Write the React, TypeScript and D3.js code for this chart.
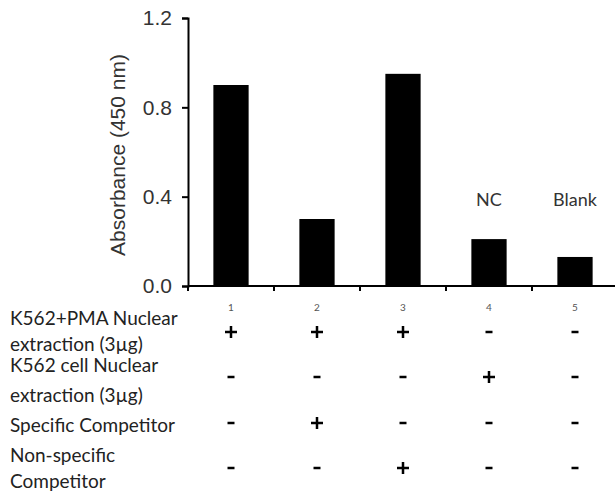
import React, { useEffect, useRef } from 'react'
import * as d3 from 'd3'

// lane numbers and absorbance readings
const lanes = ['1', '2', '3', '4', '5']
const absorbance = [0.9, 0.3, 0.95, 0.21, 0.13]
const barNotes = ['', '', '', 'NC', 'Blank']
const yTicks = [0, 0.4, 0.8, 1.2]

// condition table under the chart
const conditionLabels = [
  ['K562+PMA Nuclear', 'extraction (3µg)'],
  ['K562 cell Nuclear', 'extraction (3µg)'],
  ['Specific Competitor'],
  ['Non-specific', 'Competitor'],
]
const conditionSigns = [
  ['+', '+', '+', '-', '-'],
  ['-', '-', '-', '+', '-'],
  ['-', '+', '-', '-', '-'],
  ['-', '-', '+', '-', '-'],
]

export default function App() {
  const ref = useRef<SVGSVGElement>(null)

  useEffect(() => {
    const svg = d3.select(ref.current)
    svg.selectAll('*').remove()

    const width = 615
    const height = 497
    const left = 188
    const top = 18
    const bottom = 286
    const right = 618

    const x = d3.scaleBand().domain(lanes).range([left, right])
    const y = d3.scaleLinear().domain([0, 1.2]).range([bottom, top])
    const barW = x.bandwidth() * 0.41

    const sans = 'Liberation Sans, Arial, sans-serif'
    const calibri = 'Lato, Noto Sans, sans-serif'

    // bars
    svg.append('g')
      .selectAll('rect')
      .data(absorbance)
      .enter()
      .append('rect')
      .attr('x', (d, i) => x(lanes[i])! + x.bandwidth() / 2 - barW / 2)
      .attr('y', d => y(d))
      .attr('width', barW)
      .attr('height', d => bottom - y(d))
      .attr('fill', '#000')

    // NC / Blank notes
    svg.append('g')
      .selectAll('text')
      .data(barNotes)
      .enter()
      .append('text')
      .attr('x', (d, i) => x(lanes[i])! + x.bandwidth() / 2)
      .attr('y', 206)
      .attr('text-anchor', 'middle')
      .attr('font-family', calibri)
      .attr('font-size', 18)
      .attr('fill', '#333')
      .text(d => d)

    // y axis
    const yAxis = svg.append('g')
      .attr('transform', `translate(${left},0)`)
      .call(d3.axisLeft(y).tickValues(yTicks).tickFormat(d3.format('.1f')).tickSize(6).tickPadding(10))
    yAxis.select('.domain').attr('stroke', '#000').attr('stroke-width', 2)
    yAxis.selectAll('.tick line').attr('stroke', '#000').attr('stroke-width', 2)
    yAxis.selectAll('.tick text')
      .attr('font-family', sans)
      .attr('font-size', 21)
      .attr('fill', '#333')

    // x axis: line with ticks at band boundaries
    const xg = svg.append('g')
    xg.append('line')
      .attr('x1', left).attr('x2', right)
      .attr('y1', bottom).attr('y2', bottom)
      .attr('stroke', '#000').attr('stroke-width', 2)
    xg.selectAll('line.tk')
      .data(lanes)
      .enter()
      .append('line')
      .attr('class', 'tk')
      .attr('x1', d => x(d)!).attr('x2', d => x(d)!)
      .attr('y1', bottom).attr('y2', bottom + 5)
      .attr('stroke', '#000').attr('stroke-width', 2)

    // lane numbers
    svg.append('g')
      .selectAll('text')
      .data(lanes)
      .enter()
      .append('text')
      .attr('x', d => x(d)! + x.bandwidth() / 2)
      .attr('y', 311)
      .attr('text-anchor', 'middle')
      .attr('font-family', calibri)
      .attr('font-size', 10)
      .attr('fill', '#555')
      .text(d => d)

    // y label
    svg.append('text')
      .attr('transform', `translate(125,155) rotate(-90)`)
      .attr('text-anchor', 'middle')
      .attr('font-family', sans)
      .attr('font-size', 21)
      .attr('fill', '#333')
      .text('Absorbance (450 nm)')

    // condition rows
    const rowY = [332, 377, 423, 468]
    const lineY = [[325, 351], [372, 402], [432], [462, 488]]
    conditionLabels.forEach((lines, r) => {
      lines.forEach((t, k) => {
        svg.append('text')
          .attr('x', 10)
          .attr('y', lineY[r][k])
          .attr('font-family', calibri)
          .attr('font-size', 19)
          .attr('fill', '#222')
          .text(t)
      })
      conditionSigns[r].forEach((s, i) => {
        const cx = x(lanes[i])! + x.bandwidth() / 2
        if (s === '+') {
          svg.append('path')
            .attr('d', `M${cx - 6},${rowY[r]}H${cx + 6}M${cx},${rowY[r] - 6}V${rowY[r] + 6}`)
            .attr('stroke', '#000')
            .attr('stroke-width', 2.5)
        } else {
          svg.append('path')
            .attr('d', `M${cx - 3.5},${rowY[r]}H${cx + 3.5}`)
            .attr('stroke', '#000')
            .attr('stroke-width', 2.5)
        }
      })
    })

    svg.attr('width', width).attr('height', height)
  }, [])

  return (
    <svg ref={ref} width={615} height={497}
      style={{ position: 'absolute', left: 0, top: 0, background: '#fff' }} />
  )
}
